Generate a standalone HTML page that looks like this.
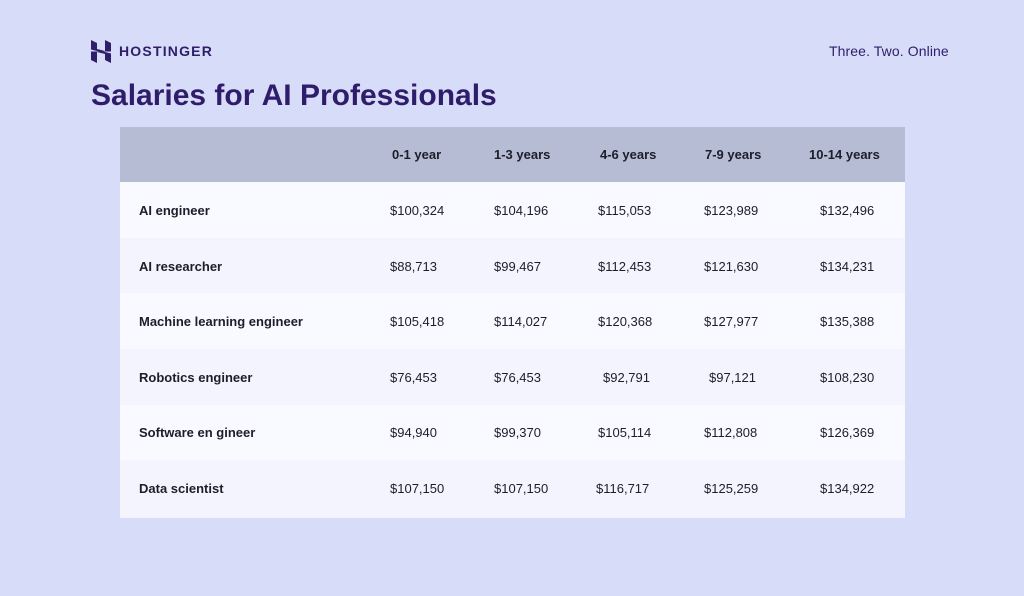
<!DOCTYPE html>
<html><head><style>
body{margin:0;width:1024px;height:596px;background:#d7dcf9;font-family:"Liberation Sans",sans-serif;position:relative;overflow:hidden;color:#1d1d2b}
.a{position:absolute;white-space:nowrap}
.row{position:absolute;left:120px;width:785px}
.t{position:absolute;font-size:13px}
.h{font-weight:bold;font-size:13px}
</style></head><body>
<svg class="a" style="left:91px;top:40px" width="20" height="23" viewBox="0 0 20 23">
<path d="M0 0l6 3v6l8 2V0l6 3v8.5H8L0 9.5z M0 11.5h12l8 2V23l-6-3v-6L6 12v11l-6-3z" fill="#2f1c6a"/>
</svg>
<div class="a" style="left:119px;top:43px;font-size:14px;font-weight:bold;letter-spacing:1.2px;color:#2f1c6a">HOSTINGER</div>
<div class="a" style="left:829px;top:43px;font-size:14px;color:#2f1c6a;letter-spacing:0.1px">Three. Two. Online</div>
<div class="a" style="left:91px;top:79px;font-size:30px;font-weight:bold;color:#2f1c6a">Salaries for AI Professionals</div>
<div class="row" style="top:127px;height:55px;background:#b6bcd4"></div>
<div class="row" style="top:182px;height:56px;background:#f9faff"></div>
<div class="row" style="top:238px;height:55px;background:#f3f4fe"></div>
<div class="row" style="top:293px;height:56px;background:#f9faff"></div>
<div class="row" style="top:349px;height:56px;background:#f3f4fe"></div>
<div class="row" style="top:405px;height:55px;background:#f9faff"></div>
<div class="row" style="top:460px;height:58px;background:#f3f4fe"></div>
<div id="c"></div>
<script>
const hdr=["0-1 year","1-3 years","4-6 years","7-9 years","10-14 years"];
const hx=[392,494,600,705,809];
const vx=[390,494,598,704,820];
const rows=[["AI engineer","$100,324","$104,196","$115,053","$123,989","$132,496"],
["AI researcher","$88,713","$99,467","$112,453","$121,630","$134,231"],
["Machine learning engineer","$105,418","$114,027","$120,368","$127,977","$135,388"],
["Robotics engineer","$76,453","$76,453","$92,791","$97,121","$108,230"],
["Software en gineer","$94,940","$99,370","$105,114","$112,808","$126,369"],
["Data scientist","$107,150","$107,150","$116,717","$125,259","$134,922"]];
const ox=[[0,0,0,0,0],[0,0,0,0,0],[0,0,0,0,0],[0,0,5,5,0],[0,0,0,0,0],[0,0,-2,0,0]];
let h="";
hdr.forEach((s,i)=>h+=`<div class="a t h" style="left:${hx[i]}px;top:147px">${s}</div>`);
rows.forEach((r,j)=>{const y=203+j*55.6;
h+=`<div class="a t h" style="left:139px;top:${y}px">${r[0]}</div>`;
for(let i=1;i<6;i++)h+=`<div class="a t" style="left:${vx[i-1]+ox[j][i-1]}px;top:${y}px">${r[i]}</div>`;});
document.getElementById("c").innerHTML=h;
</script>
</body></html>
